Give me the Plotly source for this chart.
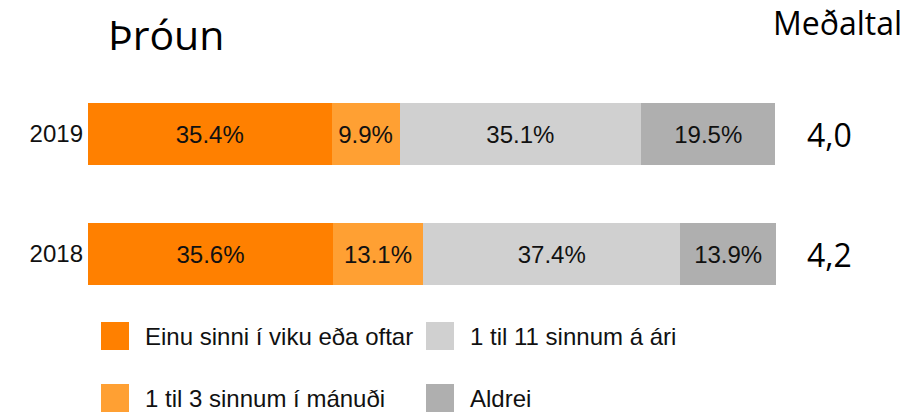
import plotly.graph_objects as go

years = ["2018", "2019"]
series_names = ["Einu sinni í viku eða oftar", "1 til 3 sinnum í mánuði",
                "1 til 11 sinnum á ári", "Aldrei"]
series_values = [
    [35.6, 35.4],
    [13.1, 9.9],
    [37.4, 35.1],
    [13.9, 19.5],
]
series_colors = ["#FF8000", "#FFA033", "#D0D0D0", "#AFAFAF"]
averages = ["4,2", "4,0"]
title_text = "Þróun"
avg_title = "Meðaltal"

# the page body has an 8px margin; the figure is sized/positioned to compensate
OFF = 8
W, H = 919 - OFF, 412 - OFF
L = 88 - OFF
R = W - (776 - OFF)
T = 74 - OFF
B = H - (314 - OFF)
PW, PH = W - L - R, H - T - B


def px(xp):
    return (xp - OFF - L) / PW


def py(yp):
    return (H - B - (yp - OFF)) / PH


fig = go.Figure()
for name, vals, col in zip(series_names, series_values, series_colors):
    fig.add_trace(go.Bar(
        y=years, x=vals, name=name, orientation="h",
        marker=dict(color=col, line=dict(width=0)),
        text=[f"{v:.1f}%" for v in vals],
        textposition="inside", insidetextanchor="middle",
        textangle=0,
        textfont=dict(family="Liberation Sans, Arial", size=24, color="#111111"),
        showlegend=False, hoverinfo="skip",
    ))

shapes = []
annotations = []
# manual legend: two columns, column-major order
leg_cols_x = [101, 426]
leg_rows_y = [322, 384]
sq = 28
for i, (name, col) in enumerate(zip(series_names, series_colors)):
    c, r = divmod(i, 2)
    x0 = leg_cols_x[c]
    y0 = leg_rows_y[r]
    shapes.append(dict(type="rect", xref="paper", yref="paper",
                       x0=px(x0), x1=px(x0 + sq), y0=py(y0), y1=py(y0 + sq),
                       fillcolor=col, line=dict(width=0), layer="above"))
    annotations.append(dict(xref="paper", yref="paper", x=px(x0 + 42), y=py(y0 + sq / 2),
                            xanchor="left", yanchor="middle", showarrow=False,
                            text=name,
                            font=dict(family="Liberation Sans, Arial", size=24, color="#111111")))

for idx, avg in enumerate(averages):
    annotations.append(dict(xref="paper", yref="y", x=px(829), y=idx,
                            xanchor="center", yanchor="middle", showarrow=False,
                            text=avg, font=dict(family="Open Sans", size=32, color="#000000")))

annotations.append(dict(xref="paper", yref="paper", x=px(166), y=py(34),
                        xanchor="center", yanchor="middle", showarrow=False,
                        text=title_text, font=dict(family="Open Sans", size=41, color="#000000")))
annotations.append(dict(xref="paper", yref="paper", x=px(771), y=py(22),
                        xanchor="left", yanchor="middle", showarrow=False,
                        text=avg_title, font=dict(family="Open Sans", size=32, color="#000000")))

fig.update_layout(
    width=W, height=H,
    margin=dict(l=L, r=R, t=T, b=B, pad=0),
    barmode="stack", bargap=0.49,
    paper_bgcolor="white", plot_bgcolor="white",
    xaxis=dict(range=[0, 100], visible=False, fixedrange=True),
    yaxis=dict(categoryorder="array", categoryarray=years, range=[-0.5, 1.5],
               showgrid=False, zeroline=False, showline=False, ticks="",
               tickfont=dict(family="Liberation Sans, Arial", size=24, color="#111111"),
               ticklabelstandoff=4),
    shapes=shapes, annotations=annotations,
)

fig.write_html("out.html")
